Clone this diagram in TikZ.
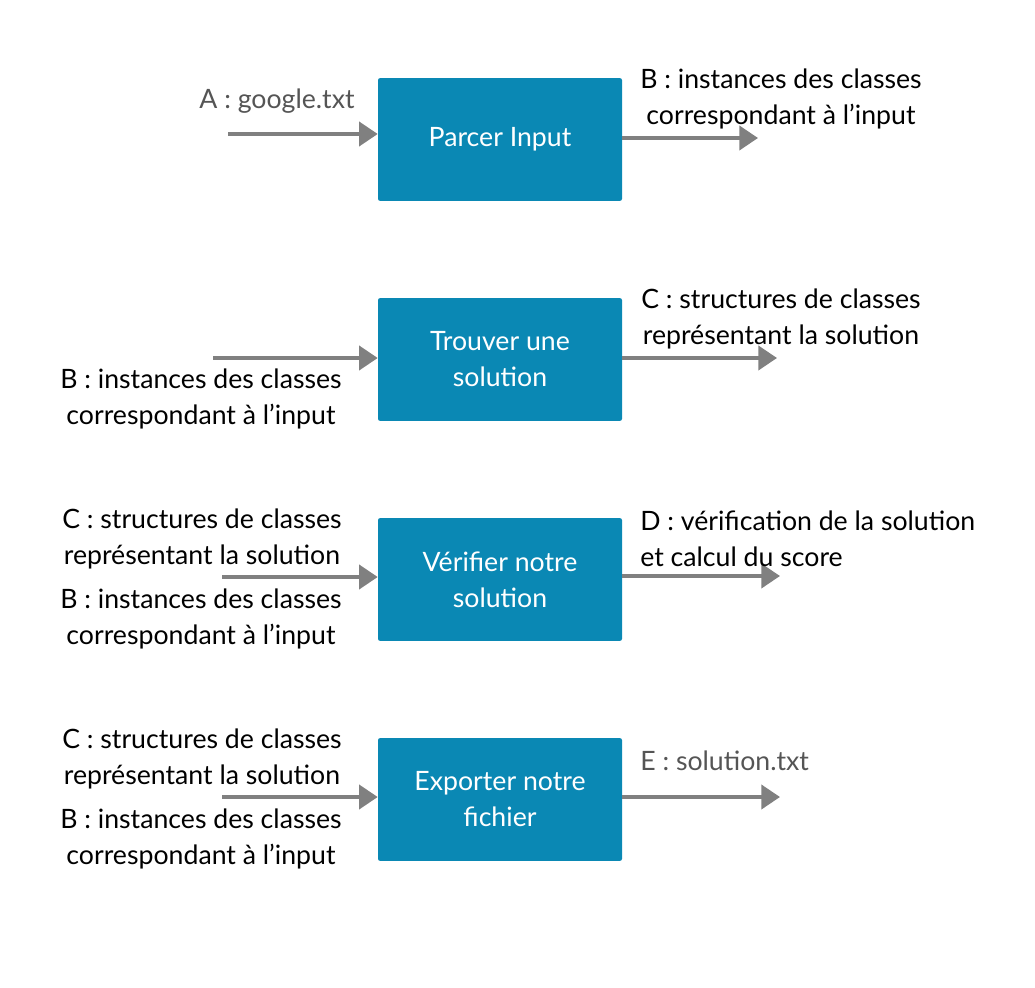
\documentclass[tikz,border=0pt]{standalone}
\usepackage{fontspec}
\setmainfont{Lato}
\usetikzlibrary{arrows.meta}
\definecolor{stepblue}{HTML}{0A88B4}
\definecolor{flowgray}{HTML}{808080}
\definecolor{labelgray}{HTML}{555555}
\tikzset{
  stepbox/.style={rectangle, rounded corners=1.5pt, fill=stepblue, draw=none,
    minimum width=183pt, minimum height=92pt, text=white, align=center,
    font=\fontsize{20}{27}\selectfont},
  flow/.style={draw=flowgray, line width=3pt, -{Triangle[length=14pt,width=18pt]}},
  lbl/.style={align=center, inner sep=0pt, font=\fontsize{20}{27}\selectfont},
  lblgray/.style={lbl, text=labelgray}
}
\begin{document}
\begin{tikzpicture}[x=0.75pt,y=-0.75pt]
\useasboundingbox (0,0) rectangle (1035,988);
\node[stepbox] (parse) at (500,139.5){Parcer Input};
\node[stepbox] (solve) at (500,359.5){Trouver une\\solution};
\node[stepbox] (check) at (500,579.5){Vérifier notre\\solution};
\node[stepbox] (export) at (500,799.5){Exporter notre\\fichier};
\coordinate (parsein) at (228,134);
\coordinate (parseout) at (758,138);
\draw[flow](parsein) -- (parsein -| parse.west);
\draw[flow](parseout -| parse.east) -- (parseout);
\node[lblgray] (parsea) at (277,101){A : google.txt};
\node[lbl] (parseb) at (781,99){B : instances des classes\\correspondant à l’input};
\coordinate (solvein) at (213,358);
\coordinate (solveout) at (777,358);
\draw[flow](solvein) -- (solvein -| solve.west);
\draw[flow](solveout -| solve.east) -- (solveout);
\node[lbl] (solveb) at (201,399){B : instances des classes\\correspondant à l’input};
\node[lbl] (solvec) at (781,319){C : structures de classes\\représentant la solution};
\coordinate (checkin) at (222,577);
\coordinate (checkout) at (780,576);
\draw[flow](checkin) -- (checkin -| check.west);
\draw[flow](checkout -| check.east) -- (checkout);
\node[lbl] (checkc) at (202,539){C : structures de classes\\représentant la solution};
\node[lbl] (checkb) at (201,619){B : instances des classes\\correspondant à l’input};
\node[lbl, align=left, anchor=west] (checkd) at (640,539){D : vérification de la solution\\et calcul du score};
\coordinate (exportin) at (222,797);
\coordinate (exportout) at (780,797);
\draw[flow](exportin) -- (exportin -| export.west);
\draw[flow](exportout -| export.east) -- (exportout);
\node[lbl] (exportc) at (202,759){C : structures de classes\\représentant la solution};
\node[lbl] (exportb) at (201,839){B : instances des classes\\correspondant à l’input};
\node[lblgray, anchor=west] (exporte) at (640,761){E : solution.txt};
\end{tikzpicture}
\end{document}
